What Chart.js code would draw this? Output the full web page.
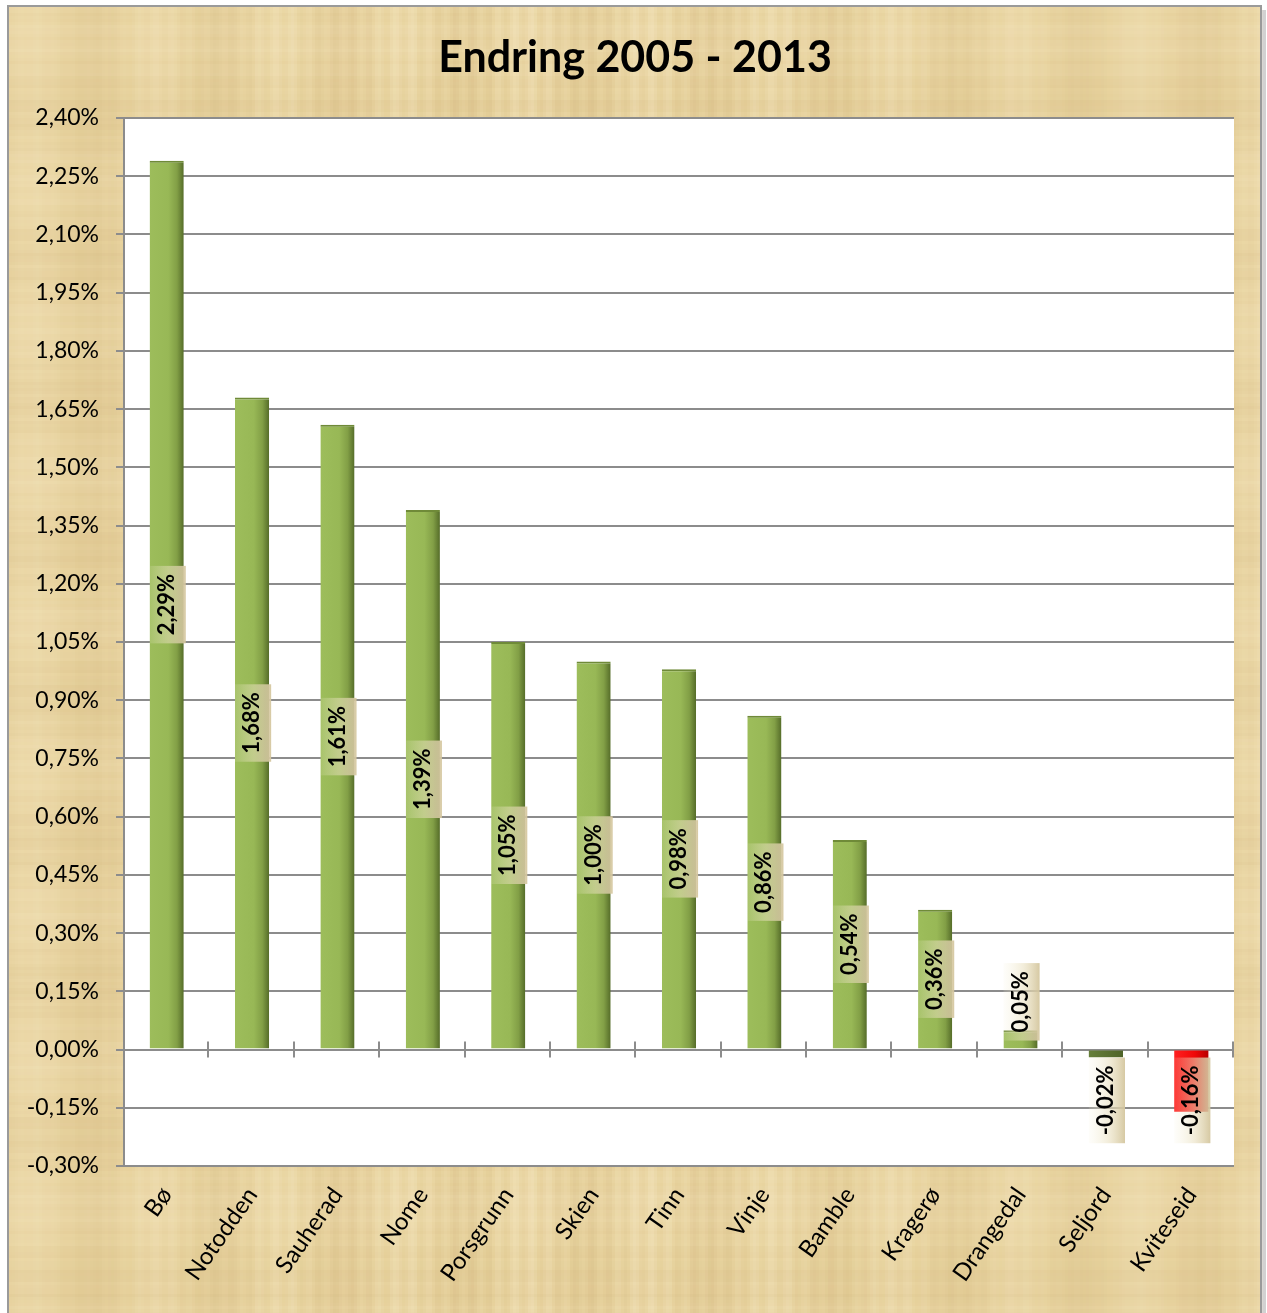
<!DOCTYPE html>
<html>
<head>
<meta charset="utf-8">
<script src="https://cdn.jsdelivr.net/npm/chart.js@4.4.0/dist/chart.umd.min.js"></script>
<style>
  html, body { margin: 0; padding: 0; background: #fff; }
  #wrap { width: 1267px; height: 1313px; }
</style>
</head>
<body>
<div id="wrap"><canvas id="grafico" width="1267" height="1313"></canvas></div>
<script>
/* DATA */
const kommuner = ['Bø', 'Notodden', 'Sauherad', 'Nome', 'Porsgrunn', 'Skien', 'Tinn', 'Vinje', 'Bamble', 'Kragerø', 'Drangedal', 'Seljord', 'Kviteseid'];
const endring = [2.29, 1.68, 1.61, 1.39, 1.05, 1.00, 0.98, 0.86, 0.54, 0.36, 0.05, -0.02, -0.16];
const yMin = -0.30;
const yMax = 2.40;
const yStep = 0.15;
const tittel = 'Endring 2005 - 2013';

const FONT = 'Lato, "Open Sans", sans-serif';

function pst(v) {
  return v.toFixed(2).replace('.', ',') + '%';
}

/* bakgrunn: papyrus-aktig flate + hvit plotflate */
const bakgrunn = {
  id: 'bakgrunn',
  beforeDraw(chart) {
    const ctx = chart.ctx;
    const W = chart.width, H = chart.height;
    const a = chart.chartArea;
    ctx.save();
    ctx.fillStyle = '#fff';
    ctx.fillRect(0, 0, W, H);
    // skygge til hoyre
    ctx.fillStyle = 'rgba(0,0,0,0.18)';
    ctx.fillRect(1262, 10, 4, H);
    ctx.fillStyle = '#e8d39f';
    ctx.fillRect(9, 7, 1252, H);
    // striper
    for (let x = 9; x < 1261; x += 3) {
      const s = Math.sin(x * 0.37) * 0.6 + Math.sin(x * 0.051) * 1.2 + Math.sin(x * 1.73) * 0.5;
      ctx.fillStyle = s > 0 ? 'rgba(255,246,220,' + (0.12 * s) + ')' : 'rgba(185,150,90,' + (-0.07 * s) + ')';
      ctx.fillRect(x, 7, 3, H);
    }
    for (let y = 7; y < H; y += 3) {
      const s = Math.sin(y * 0.29) * 0.6 + Math.sin(y * 0.043) * 1.1 + Math.sin(y * 1.31) * 0.4;
      ctx.fillStyle = s > 0 ? 'rgba(255,246,220,' + (0.07 * s) + ')' : 'rgba(185,150,90,' + (-0.05 * s) + ')';
      ctx.fillRect(9, y, 1252, 3);
    }
    ctx.strokeStyle = '#9a9a9a';
    ctx.lineWidth = 2;
    ctx.strokeRect(8, 6, 1253, H + 10);
    // plotflate
    ctx.fillStyle = '#fff';
    ctx.fillRect(a.left, a.top, a.right - a.left, a.bottom - a.top);
    ctx.restore();
  }
};

/* tick-streker paa nullinjen mellom kategoriene */
const nullTicks = {
  id: 'nullTicks',
  beforeDatasetsDraw(chart) {
    const ctx = chart.ctx;
    const a = chart.chartArea;
    const y0 = chart.scales.y.getPixelForValue(0);
    const step = (a.right - a.left) / kommuner.length;
    ctx.save();
    ctx.strokeStyle = '#8c8c8c';
    ctx.lineWidth = 2;
    ctx.beginPath();
    for (let k = 1; k <= kommuner.length; k++) {
      const x = Math.round(a.left + k * step) - 1;
      ctx.moveTo(x, y0 - 8);
      ctx.lineTo(x, y0 + 8);
    }
    ctx.stroke();
    ctx.restore();
  }
};

/* verdier inne i soylene */
const etiketter = {
  id: 'etiketter',
  afterDatasetsDraw(chart) {
    const ctx = chart.ctx;
    const meta = chart.getDatasetMeta(0);
    ctx.save();
    ctx.font = 'bold 22px ' + FONT;
    meta.data.forEach((bar, i) => {
      const v = endring[i];
      const txt = pst(v);
      const tw = ctx.measureText(txt).width;
      const boxH = tw + 16;
      const boxW = bar.width + 2;
      const left = bar.x - bar.width / 2;
      const top = Math.min(bar.y, bar.base);
      const bottom = Math.max(bar.y, bar.base);
      let cy;
      if (bottom - top >= boxH) {
        cy = (top + bottom) / 2;
      } else if (v >= 0) {
        cy = bar.base - 8 - boxH / 2;
      } else {
        cy = bar.base + 7 + boxH / 2;
      }
      const g = ctx.createLinearGradient(left, 0, left + boxW, 0);
      g.addColorStop(0, 'rgba(245,240,215,0.12)');
      g.addColorStop(0.55, 'rgba(232,222,188,0.55)');
      g.addColorStop(1, 'rgba(212,198,158,0.95)');
      ctx.fillStyle = g;
      ctx.fillRect(left, cy - boxH / 2, boxW, boxH);
      ctx.save();
      ctx.translate(bar.x - 1, cy);
      ctx.rotate(-Math.PI / 2);
      ctx.fillStyle = '#000';
      ctx.textAlign = 'center';
      ctx.textBaseline = 'middle';
      ctx.fillText(txt, 0, 1);
      ctx.restore();
    });
    ctx.restore();
  }
};

/* tittel */
const overskrift = {
  id: 'overskrift',
  afterDraw(chart) {
    const ctx = chart.ctx;
    ctx.save();
    let size = 40;
    ctx.font = 'bold ' + size + 'px ' + FONT;
    const w = ctx.measureText(tittel).width;
    size = Math.round(size * 390 / w);
    ctx.font = 'bold ' + size + 'px ' + FONT;
    ctx.fillStyle = '#000';
    ctx.textAlign = 'center';
    ctx.textBaseline = 'alphabetic';
    ctx.fillText(tittel, 635, 72);
    ctx.restore();
  }
};

function soyleFarge(c) {
  const chart = c.chart;
  const v = endring[c.dataIndex];
  if (!chart.chartArea || !chart.scales.x) return '#9bbb59';
  const xs = chart.scales.x;
  const cx = xs.getPixelForValue(c.dataIndex);
  const w = (chart.chartArea.right - chart.chartArea.left) / kommuner.length * 0.4;
  const g = chart.ctx.createLinearGradient(cx - w / 2, 0, cx + w / 2, 0);
  if (v < -0.1) {
    g.addColorStop(0, '#ff2020');
    g.addColorStop(0.6, '#f00808');
    g.addColorStop(1, '#b80000');
  } else if (v < 0) {
    g.addColorStop(0, '#667f3a');
    g.addColorStop(1, '#4f6428');
  } else {
    g.addColorStop(0, '#9dbd5b');
    g.addColorStop(0.55, '#98b856');
    g.addColorStop(0.8, '#829f46');
    g.addColorStop(1, '#556c29');
  }
  return g;
}

const ctx = document.getElementById('grafico').getContext('2d');

const data = {
  labels: kommuner,
  datasets: [{
    data: endring,
    backgroundColor: soyleFarge,
    borderColor: '#6f8a38',
    borderWidth: { top: 2, left: 0, right: 0, bottom: 0 },
    borderSkipped: 'start',
    barPercentage: 0.4,
    categoryPercentage: 1
  }]
};

const options = {
  responsive: false,
  animation: false,
  layout: { padding: { top: 118, right: 33, bottom: 0, left: 0 } },
  scales: {
    x: {
      afterFit: (a) => { a.height = 147; },
      grid: { display: false, drawTicks: false },
      border: { display: false },
      ticks: {
        autoSkip: false,
        minRotation: 55,
        maxRotation: 55,
        padding: 16,
        color: '#000',
        font: { family: FONT, size: 24 }
      }
    },
    y: {
      min: yMin,
      max: yMax,
      afterFit: (a) => { a.width = 124; },
      grid: { color: '#8c8c8c', lineWidth: 2, tickLength: 8, drawTicks: true },
      border: { display: true, color: '#8c8c8c', width: 2 },
      ticks: {
        stepSize: yStep,
        padding: 17,
        color: '#000',
        font: { family: FONT, size: 23 },
        callback: (v) => pst(v)
      }
    }
  },
  plugins: {
    legend: { display: false },
    tooltip: { enabled: false }
  }
};

const miGrafico = new Chart(ctx, {
  type: 'bar',
  data: data,
  options: options,
  plugins: [bakgrunn, nullTicks, etiketter, overskrift]
});
</script>
</body>
</html>
